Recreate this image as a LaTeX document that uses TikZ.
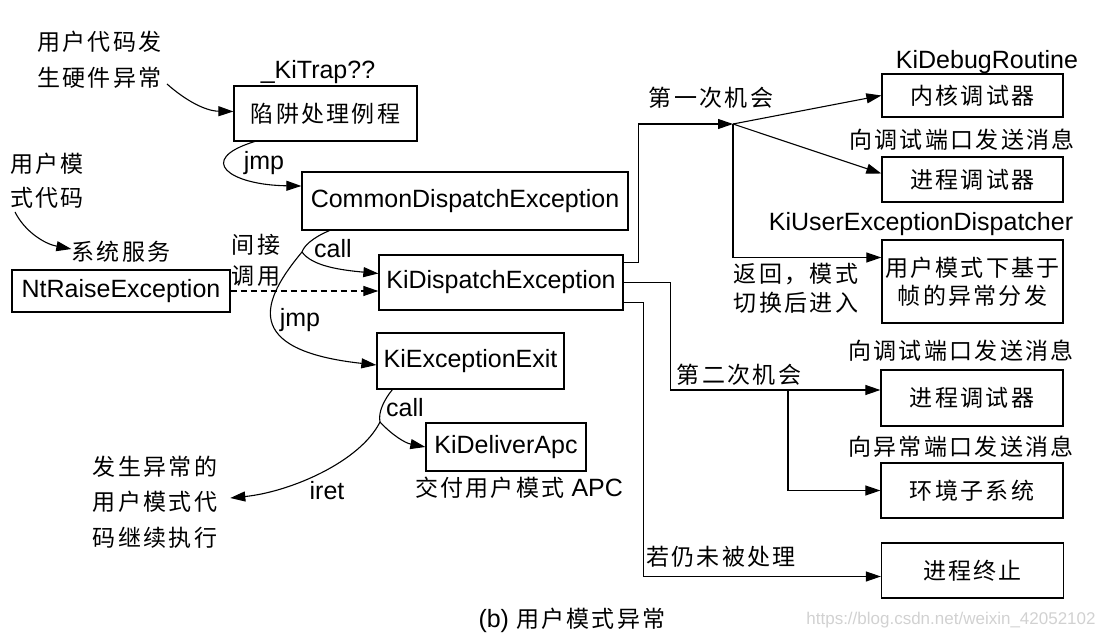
\documentclass[tikz,border=0pt]{standalone}
\usepackage{fontspec}
\setmainfont{Liberation Sans}
\newfontfamily\cjk[LetterSpace=10]{Noto Sans CJK SC}
\newcommand\zhtxt[1]{{\fontsize{23}{30}\cjk #1}}
\usetikzlibrary{arrows.meta}
\begin{document}
\begin{tikzpicture}[x=1pt,y=-1pt,
  every node/.style={inner sep=0pt, font=\fontsize{25}{30}\selectfont},
  zh/.style={font=\fontsize{23}{30}\cjk},
  box/.style={draw, line width=1.3pt, inner sep=0pt},
  conn/.style={line width=1.1pt},
  arr/.style={conn, -{Triangle[length=15pt,width=10pt]}},
  dsh/.style={arr, dash pattern=on 6pt off 4pt}]
\useasboundingbox (0,0) rectangle (1096,636);

% ---------- boxes ----------
\node[box, zh, minimum width=183pt, minimum height=55pt] (trap) at (325.5,113.5) {陷阱处理例程};
\node[box, minimum width=326pt, minimum height=58pt] (cde) at (465,201) {CommonDispatchException};
\node[box, minimum width=218pt, minimum height=42pt] (nre) at (121,291) {NtRaiseException};
\node[box, minimum width=244pt, minimum height=55pt] (kde) at (501,282.5) {KiDispatchException};
\node[box, minimum width=187pt, minimum height=56pt] (kee) at (470.5,361) {KiExceptionExit};
\node[box, minimum width=160pt, minimum height=48pt] (kda) at (506,447) {KiDeliverApc};
\node[box, zh, minimum width=181pt, minimum height=43pt] (kdbg) at (972.5,95.5) {内核调试器};
\node[box, zh, minimum width=181pt, minimum height=45pt] (pdbg1) at (972.5,179.5) {进程调试器};
\node[box, font=\fontsize{23}{28}\cjk, align=center, minimum width=181pt, minimum height=83pt] (ufd) at (972.5,281.5) {用户模式下基于\\帧的异常分发};
\node[box, zh, minimum width=182pt, minimum height=56pt] (pdbg2) at (972,398) {进程调试器};
\node[box, zh, minimum width=182pt, minimum height=55pt] (env) at (972,490.5) {环境子系统};
\node[box, zh, minimum width=182pt, minimum height=55pt] (term) at (972.5,570.5) {进程终止};

% ---------- labels ----------
\node[font=\fontsize{23}{36}\cjk, align=left, anchor=west] (hw) at (37,60) {用户代码发\\生硬件异常};
\node (ktrap) at (318,72) {\_KiTrap??};
\node (jmpa) at (264,163) {jmp};
\node[font=\fontsize{23}{34}\cjk, align=left, anchor=west] (um) at (10,181) {用户模\\式代码};
\node[zh] (svc) at (121,252) {系统服务};
\node[font=\fontsize{23}{31}\cjk, align=center] (ind) at (256,260) {间接\\调用};
\node (calla) at (333,249) {call};
\node (jmpb) at (300,320) {jmp};
\node (callb) at (405,408) {call};
\node (apc) at (519,488) {\zhtxt{交付用户模式} APC};
\node (iret) at (327,491) {iret};
\node[font=\fontsize{23}{35.5}\cjk, align=left] (cont) at (155,502) {发生异常的\\用户模式代\\码继续执行};
\node[zh] (first) at (711,98) {第一次机会};
\node (kdr) at (987,62) {KiDebugRoutine};
\node[zh] (msga) at (962,140) {向调试端口发送消息};
\node (kued) at (921,224) {KiUserExceptionDispatcher};
\node[font=\fontsize{23}{29}\cjk, align=left] (ret) at (796,288) {返回，模式\\切换后进入};
\node[zh] (second) at (739,375) {第二次机会};
\node[zh] (msgb) at (961,351) {向调试端口发送消息};
\node[zh] (msgc) at (961,447) {向异常端口发送消息};
\node[zh] (still) at (721,557) {若仍未被处理};
\node (cap) at (572,620) {(b) \zhtxt{用户模式异常}};
\node[font=\fontsize{17}{20}\selectfont, text=black!18] (url) at (951,620) {https://blog.csdn.net/weixin\_42052102};

% ---------- coordinates ----------
\coordinate (hwend) at (167,84);
\coordinate (umend) at (15,212);
\coordinate (b1) at (302,252);
\coordinate (b2) at (380,422);
\coordinate (fc) at (733,124);
\coordinate (sc) at (788,390);

% ---------- left connectors ----------
\draw[arr] (hwend) .. controls (185,100) and (205,111) .. ([yshift=2pt]trap.west);
\draw[arr] ([xshift=21pt]trap.south west) .. controls (195,160) and (230,185) .. ([yshift=15pt]cde.west);
\draw[arr] (umend) .. controls (25,232) and (45,244) .. ([yshift=3pt]svc.west);
\draw[conn] ([xshift=28pt]cde.south west) .. controls (312,238) and (304,246) .. (b1);
\draw[arr] (b1) .. controls (312,266) and (340,270) .. ([yshift=9pt]kde.west);
\draw[arr] (b1) .. controls (262,300) and (240,350) .. ([yshift=-4pt]kee.west);
\draw[dsh] (nre.east) -- (nre.east -| kde.west);
\draw[conn] ([xshift=16pt]kee.south west) .. controls (384,400) and (378,412) .. (b2);
\draw[arr] (b2) .. controls (392,435) and (405,443) .. (kda.west);
\draw[arr] (b2) .. controls (360,462) and (290,492) .. ([xshift=13pt,yshift=4pt]cont.east);

% ---------- right connectors ----------
\draw[arr] ([yshift=-8pt]kde.north east) -- ++(15,0) |- (fc);
\draw[arr] (fc) -- (kdbg.west);
\draw[arr] (fc) -- ([yshift=6pt]pdbg1.west);
\draw[arr] (fc) |- ([yshift=24pt]ufd.west);
\draw[arr] (kde.east) -- ++(47,0) |- ([yshift=8pt]pdbg2.west);
\draw[arr] (sc) |- (env.west);
\draw[arr] ([yshift=8pt]kde.south east) -- ++(20,0) |- ([yshift=-6pt]term.west);
\end{tikzpicture}
\end{document}
